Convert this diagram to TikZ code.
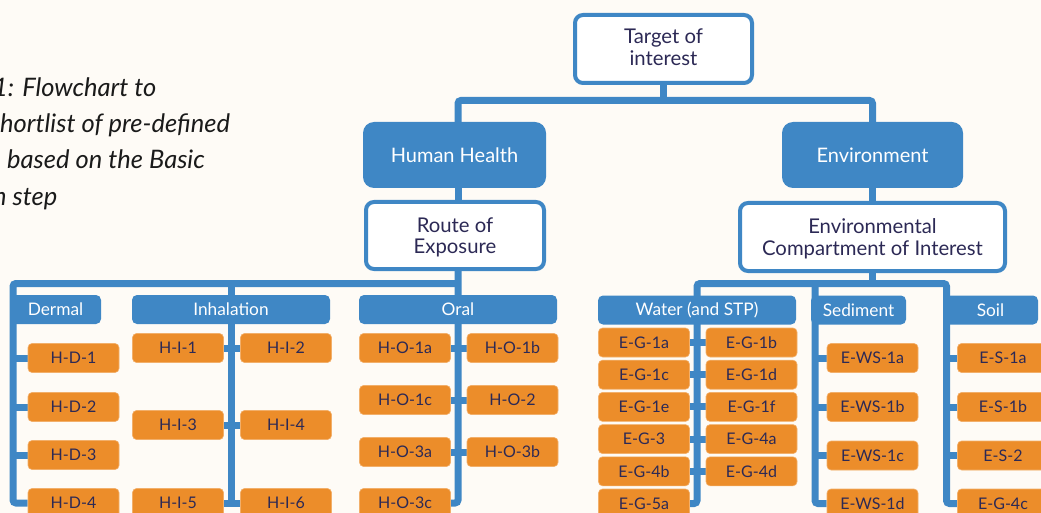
\documentclass[tikz,border=0pt]{standalone}
\usepackage{fontspec}
\setmainfont{Lato}

\definecolor{paper}{HTML}{FEFBF6}
\definecolor{flowblue}{HTML}{3F87C5}
\definecolor{leaf}{HTML}{EC8D2A}
\definecolor{ink}{HTML}{2C2955}
\definecolor{captionink}{HTML}{1A1A1A}

\pgfdeclarelayer{paperlayer}
\pgfdeclarelayer{wires}
\pgfsetlayers{paperlayer,wires,main}

\tikzset{
  outlinebox/.style={draw=flowblue, line width=4pt, fill=white, rounded corners=8pt,
    text=ink, align=center, font=\fontsize{20.3}{21.5}\selectfont, inner sep=0pt},
  solidbox/.style={fill=flowblue, rounded corners=11pt, text=white,
    font=\fontsize{20}{22}\selectfont, inner sep=0pt, minimum height=66pt},
  headbox/.style={fill=flowblue, rounded corners=5pt, text=white,
    font=\fontsize{17.3}{19}\selectfont, minimum height=29pt, inner sep=0pt},
  leafbox/.style={fill=leaf, draw=leaf!70!white, line width=0.6pt, rounded corners=4pt,
    text=ink, font=\fontsize{16}{18}\selectfont, minimum width=91pt,
    minimum height=29pt, inner sep=0pt},
  wire/.style={draw=flowblue, line width=7pt, rounded corners=3pt},
  captionline/.style={anchor=base west, inner sep=0pt, text=captionink,
    font=\fontsize{25.5}{30}\selectfont\itshape}
}

\begin{document}
\begin{tikzpicture}[x=1pt, y=-1pt]
\useasboundingbox (0,0) rectangle (1041,513);
\begin{pgfonlayer}{paperlayer}
  \fill[paper] (0,0) rectangle (1041,513);
\end{pgfonlayer}
\clip (0,0) rectangle (1041,513);

% caption text on the left
\node[captionline] (cap1) at (-7,96.7)  {1: Flowchart to};
\node[captionline] (cap2) at (0,132.7)  {hortlist of pre-defined};
\node[captionline] (cap3) at (7,169)    {based on the Basic};
\node[captionline] (cap4) at (-7,205.5) {n step};

% upper levels
\node[outlinebox, text depth=4pt, minimum width=177pt, minimum height=68pt] (target) at (663.5,49) {Target of\\interest};
\node[solidbox, minimum width=183pt] (hh)  at (454.5,155) {Human Health};
\node[solidbox, minimum width=181pt] (env) at (872.5,155) {Environment};
\node[outlinebox, text depth=0pt, minimum width=178pt, minimum height=67pt] (route) at (455,235.5) {Route of\\Exposure};
\node[outlinebox, text depth=0pt, minimum width=265pt, minimum height=68pt] (envc) at (872.5,237) {Environmental\\Compartment of Interest};

% category headers
\node[headbox, minimum width=91pt]  (dermal) at (55.5,309.5)  {Dermal};
\node[headbox, minimum width=198pt] (inh)    at (231,309.5)   {Inhalation};
\node[headbox, minimum width=198pt] (oral)   at (458,309.5)   {Oral};
\node[headbox, minimum width=198pt] (water)  at (697,310)     {Water (and STP)};
\node[headbox, minimum width=95pt]  (sed)    at (858.5,310)   {Sediment};
\node[headbox, minimum width=95pt]  (soil)   at (990.5,310)   {Soil};

% dermal
\node[leafbox] (hd1) at (73.5,358) {H-D-1};
\node[leafbox] (hd2) at (73.5,407) {H-D-2};
\node[leafbox] (hd3) at (73.5,455) {H-D-3};
\node[leafbox] (hd4) at (73.5,503) {H-D-4};

% inhalation
\node[leafbox] (hi1) at (178,348) {H-I-1};
\node[leafbox] (hi2) at (286,348) {H-I-2};
\node[leafbox] (hi3) at (178,425) {H-I-3};
\node[leafbox] (hi4) at (286,425) {H-I-4};
\node[leafbox] (hi5) at (178,503) {H-I-5};
\node[leafbox] (hi6) at (286,503) {H-I-6};

% oral
\node[leafbox] (ho1a) at (405,348)   {H-O-1a};
\node[leafbox] (ho1b) at (512.5,348) {H-O-1b};
\node[leafbox] (ho1c) at (405,400)   {H-O-1c};
\node[leafbox] (ho2)  at (512.5,400) {H-O-2};
\node[leafbox] (ho3a) at (405,452)   {H-O-3a};
\node[leafbox] (ho3b) at (512.5,452) {H-O-3b};
\node[leafbox] (ho3c) at (405,503)   {H-O-3c};

% water
\node[leafbox] (eg1a) at (644,342.5)   {E-G-1a};
\node[leafbox] (eg1b) at (751.5,342.5) {E-G-1b};
\node[leafbox] (eg1c) at (644,374.7)   {E-G-1c};
\node[leafbox] (eg1d) at (751.5,374.7) {E-G-1d};
\node[leafbox] (eg1e) at (644,406.9)   {E-G-1e};
\node[leafbox] (eg1f) at (751.5,406.9) {E-G-1f};
\node[leafbox] (eg3)  at (644,439.1)   {E-G-3};
\node[leafbox] (eg4a) at (751.5,439.1) {E-G-4a};
\node[leafbox] (eg4b) at (644,471.3)   {E-G-4b};
\node[leafbox] (eg4d) at (751.5,471.3) {E-G-4d};
\node[leafbox] (eg5a) at (644,503.5)   {E-G-5a};

% sediment
\node[leafbox] (ews1a) at (872.5,358)   {E-WS-1a};
\node[leafbox] (ews1b) at (872.5,407)   {E-WS-1b};
\node[leafbox] (ews1c) at (872.5,455.5) {E-WS-1c};
\node[leafbox] (ews1d) at (872.5,503.5) {E-WS-1d};

% soil
\node[leafbox] (es1a) at (1003,358)   {E-S-1a};
\node[leafbox] (es1b) at (1003,407)   {E-S-1b};
\node[leafbox] (es2)  at (1003,455.5) {E-S-2};
\node[leafbox] (eg4c) at (1003,503.5) {E-G-4c};

% junction points of the buses
\coordinate (topbus) at (0,100.5);
\coordinate (lowbus) at (0,283.5);
\coordinate (dspine) at (13,283.5);
\coordinate (sspine) at (815,283.5);
\coordinate (lspine) at (946.5,283.5);

\begin{pgfonlayer}{wires}
  % top level
  \draw[wire] (target.south) -- (target.south |- topbus);
  \draw[wire] (oral |- hh.north) |- (env |- topbus) -- (env.north);
  \draw[wire] (oral |- hh.south) -- (oral |- route.north);
  \draw[wire] (env.south) -- (envc.north);

  % human health branch
  \draw[wire] (oral |- route.south) |- (ho3c.east);
  \draw[wire] (oral |- lowbus) -- (dspine) |- (hd4.west);
  \draw[wire] (inh |- lowbus) -- (inh |- hi5);
  \foreach \d in {hd1,hd2,hd3} \draw[wire] (dspine |- \d) -- (\d.west);
  \draw[wire] (hi1.east) -- (hi2.west);
  \draw[wire] (hi3.east) -- (hi4.west);
  \draw[wire] (hi5.east) -- (hi6.west);
  \draw[wire] (ho1a.east) -- (ho1b.west);
  \draw[wire] (ho1c.east) -- (ho2.west);
  \draw[wire] (ho3a.east) -- (ho3b.west);

  % environment branch
  \draw[wire] (envc.south) -- (envc.south |- lowbus);
  \draw[wire] (eg5a.east) -| (water |- lowbus) -- (lspine) |- (eg4c.west);
  \draw[wire] (sspine) |- (ews1d.west);
  \draw[wire] (eg1a.east) -- (eg1b.west);
  \draw[wire] (eg1c.east) -- (eg1d.west);
  \draw[wire] (eg1e.east) -- (eg1f.west);
  \draw[wire] (eg3.east) -- (eg4a.west);
  \draw[wire] (eg4b.east) -- (eg4d.west);
  \foreach \s in {ews1a,ews1b,ews1c} \draw[wire] (sspine |- \s) -- (\s.west);
  \foreach \s in {es1a,es1b,es2} \draw[wire] (lspine |- \s) -- (\s.west);
\end{pgfonlayer}
\end{tikzpicture}
\end{document}
